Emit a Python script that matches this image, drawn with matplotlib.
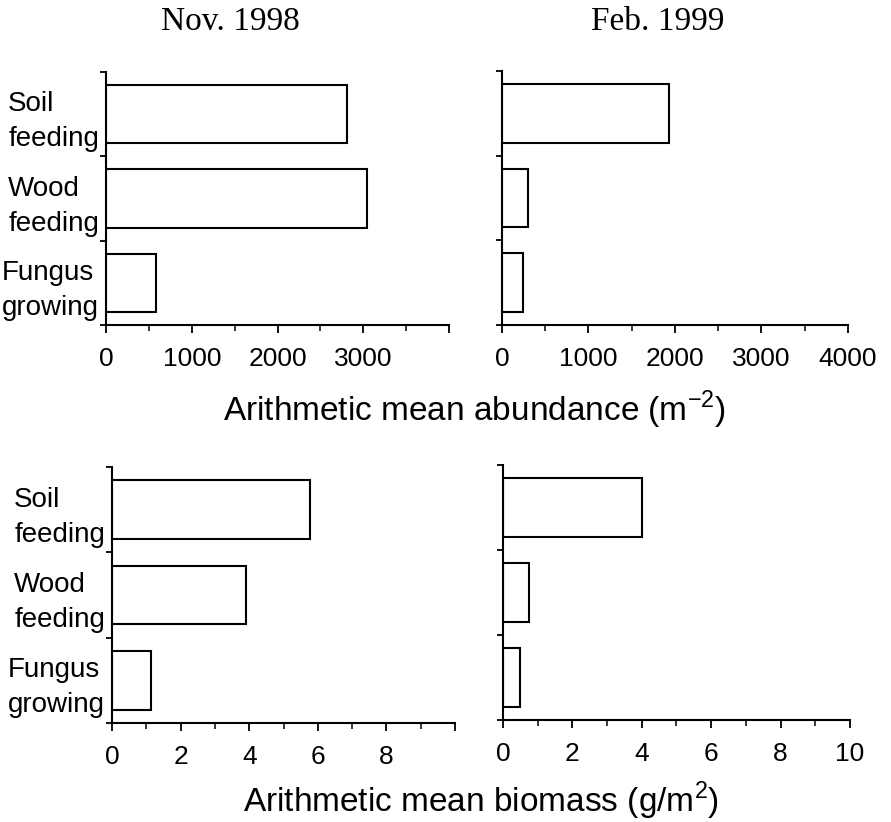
import matplotlib
matplotlib.use("Agg")
from matplotlib import pyplot as plt
from matplotlib.ticker import MultipleLocator, FixedLocator

# data
groups = ["Soil\nfeeding", "Wood\nfeeding", "Fungus\ngrowing"]
abund_nov = [2810, 3040, 580]
abund_feb = [1930, 300, 245]
biomass_nov = [5.76, 3.9, 1.13]
biomass_feb = [4.0, 0.75, 0.49]

abund_ticks = [0, 1000, 2000, 3000, 4000]
biomass_ticks = [0, 2, 4, 6, 8, 10]

plt.rcParams["font.family"] = ["Liberation Sans", "DejaVu Sans"]
plt.rcParams["mathtext.fontset"] = "custom"
plt.rcParams["mathtext.rm"] = "Liberation Sans"

fig = plt.figure(figsize=(8.91, 8.22), dpi=100)

# [left, bottom, width, height]
boxes = {
    "tl": [0.119, 0.6046, 0.385, 0.3078],
    "tr": [0.5634, 0.6046, 0.3883, 0.309],
    "bl": [0.1257, 0.1204, 0.385, 0.3115],
    "br": [0.5645, 0.1241, 0.3895, 0.3102],
}


def panel(box, vals, xmax, ticks, minor, show_last, show_cats):
    ax = fig.add_axes(box)
    pos = [2.5, 1.5, 0.5]
    ax.barh(pos, vals, height=0.69, color="white", edgecolor="black", linewidth=1.5)
    ax.set_xlim(0, xmax)
    ax.set_ylim(0, 3)
    for s in ["top", "right"]:
        ax.spines[s].set_visible(False)
    for s in ["left", "bottom"]:
        ax.spines[s].set_linewidth(1.5)
    ax.xaxis.set_major_locator(FixedLocator(ticks))
    labels = [str(t) for t in ticks]
    if not show_last:
        labels[-1] = ""
    ax.set_xticklabels(labels)
    ax.xaxis.set_minor_locator(MultipleLocator(minor))
    ax.tick_params(axis="x", which="major", length=6, width=1.3, labelsize=19, pad=10)
    ax.tick_params(axis="x", which="minor", length=4, width=1.1)
    # y: boundary ticks without labels, category labels at the bar centres
    ax.yaxis.set_major_locator(FixedLocator([0, 1, 2, 3]))
    ax.yaxis.set_major_formatter(plt.NullFormatter())
    ax.tick_params(axis="y", which="major", length=4, width=1.3)
    ax.yaxis.set_minor_locator(FixedLocator(pos))
    if show_cats:
        ax.set_yticklabels(groups, minor=True)
        for t in ax.get_yticklabels(minor=True):
            t.set_multialignment("left")
            t.set_linespacing(1.45)
    ax.tick_params(axis="y", which="minor", length=0, labelsize=20, pad=5)
    return ax


panel(boxes["tl"], abund_nov, 4000, abund_ticks, 500, False, True)
panel(boxes["tr"], abund_feb, 4000, abund_ticks, 500, True, False)
panel(boxes["bl"], biomass_nov, 10, biomass_ticks, 1, False, True)
panel(boxes["br"], biomass_feb, 10, biomass_ticks, 1, True, False)

fig.text(0.258, 0.973, "Nov. 1998", ha="center", va="center",
         family="Liberation Serif", fontsize=24)
fig.text(0.738, 0.973, "Feb. 1999", ha="center", va="center",
         family="Liberation Serif", fontsize=24)
fig.text(0.532, 0.501, "Arithmetic mean abundance (m$^{-2}$)", ha="center",
         va="center", fontsize=24)
fig.text(0.54, 0.026, "Arithmetic mean biomass (g/m$^{2}$)", ha="center",
         va="center", fontsize=24)

plt.savefig("out.png", dpi=100)
